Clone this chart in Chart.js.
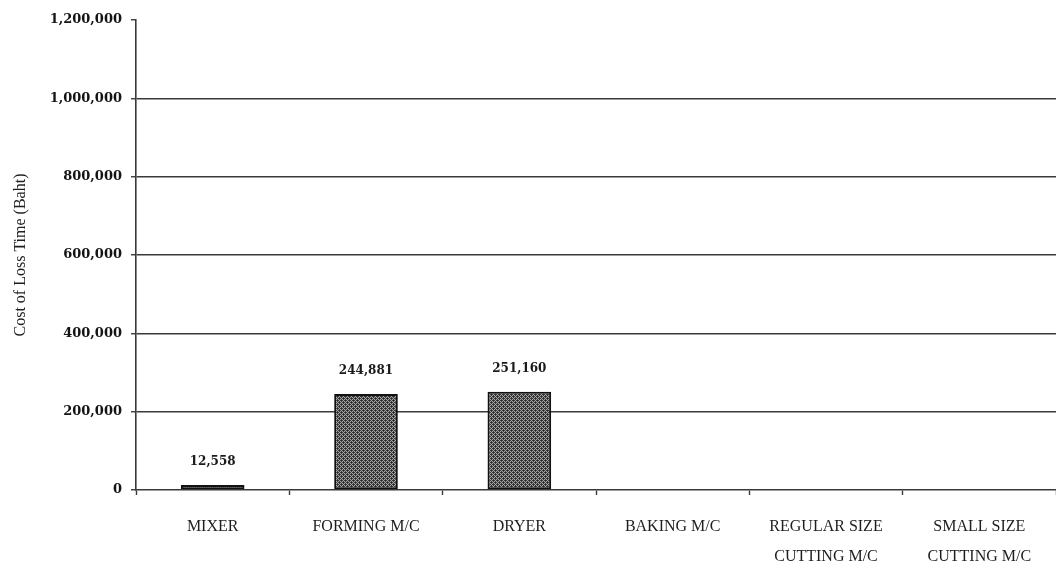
<!DOCTYPE html>
<html>
<head>
<meta charset="utf-8">
<title>Cost of Loss Time by Machine</title>
<script src="https://cdn.jsdelivr.net/npm/chart.js@4.4.1/dist/chart.umd.min.js"></script>
<style>
  html, body { margin: 0; padding: 0; background: #ffffff; }
  #wrap { width: 1056px; height: 570px; }
</style>
</head>
<body>
<div id="wrap"><canvas id="chart" width="1056" height="570"></canvas></div>
<script>
// Machine categories (multi-line labels where the axis wraps them)
const machines = [
  ['MIXER'],
  ['FORMING M/C'],
  ['DRYER'],
  ['BAKING M/C'],
  ['REGULAR SIZE', 'CUTTING M/C'],
  ['SMALL SIZE', 'CUTTING M/C']
];

// Cost of loss time per machine (Baht)
const lossCost = [12558, 244881, 251160, 0, 0, 0];

// Value axis ticks
const yTicks = [0, 200000, 400000, 600000, 800000, 1000000, 1200000];

// Stippled grey fill for the bars
function stipplePattern() {
  const c = document.createElement('canvas');
  c.width = 4; c.height = 4;
  const g = c.getContext('2d');
  g.fillStyle = '#a6a6a6';
  g.fillRect(0, 0, 4, 4);
  g.fillStyle = '#3c3c3c';
  for (let y = 0; y < 4; y++) {
    for (let x = 0; x < 4; x++) {
      if ((x + y) % 2 === 0) g.fillRect(x, y, 1, 1);
    }
  }
  g.fillStyle = '#262626';
  g.fillRect(1, 0, 1, 1);
  g.fillRect(3, 2, 1, 1);
  return g.createPattern(c, 'repeat');
}

// Value labels above non-zero bars
const valueLabels = {
  id: 'valueLabels',
  afterDatasetsDraw(chart) {
    const ctx = chart.ctx;
    const meta = chart.getDatasetMeta(0);
    const data = chart.data.datasets[0].data;
    ctx.save();
    ctx.font = 'bold 12px "DejaVu Serif", serif';
    ctx.fillStyle = '#1a1a1a';
    ctx.textAlign = 'center';
    ctx.textBaseline = 'middle';
    meta.data.forEach((bar, i) => {
      const v = data[i];
      if (v > 0) {
        ctx.fillText(v.toLocaleString('en-US'), bar.x, bar.y - 23);
      }
    });
    ctx.restore();
  }
};

const ctx = document.getElementById('chart').getContext('2d');

new Chart(ctx, {
  type: 'bar',
  data: {
    labels: machines,
    datasets: [{
      data: lossCost,
      backgroundColor: stipplePattern(),
      borderColor: '#111111',
      borderWidth: 2,
      borderSkipped: false,
      categoryPercentage: 1.0,
      barPercentage: 0.415
    }]
  },
  options: {
    responsive: false,
    animation: false,
    devicePixelRatio: 1,
    layout: { padding: { top: 20, right: 0, bottom: 0, left: 0 } },
    plugins: {
      legend: { display: false },
      tooltip: { enabled: false }
    },
    scales: {
      x: {
        offset: true,
        grid: {
          offset: true,
          drawOnChartArea: false,
          drawTicks: true,
          tickLength: 5,
          tickColor: '#3a3a3a',
          tickWidth: 1.4
        },
        border: { display: true, color: '#3a3a3a', width: 1.6 },
        ticks: {
          color: '#1e1e1e',
          padding: 17,
          maxRotation: 0,
          autoSkip: false,
          font: { family: '"Liberation Serif", "Times New Roman", serif', size: 16, lineHeight: '30px' }
        },
        afterFit(scale) { scale.height = 80; }
      },
      y: {
        min: 0,
        max: 1200000,
        afterBuildTicks(scale) {
          scale.ticks = yTicks.map(v => ({ value: v }));
        },
        grid: {
          color: (c) => (c.tick && (c.tick.value === 1200000 || c.tick.value === 0)) ? 'rgba(0,0,0,0)' : '#3a3a3a',
          lineWidth: 1.5,
          tickLength: 5,
          tickColor: '#3a3a3a',
          tickWidth: 1.4
        },
        border: { display: true, color: '#3a3a3a', width: 1.6 },
        ticks: {
          color: '#141414',
          padding: 9,
          font: { family: '"DejaVu Serif", serif', size: 13, weight: 'bold' },
          callback: (v) => Number(v).toLocaleString('en-US')
        },
        title: {
          display: true,
          text: 'Cost of Loss Time (Baht)',
          color: '#1e1e1e',
          padding: { top: 11, bottom: 0 },
          font: { family: '"Liberation Serif", "Times New Roman", serif', size: 16 }
        },
        afterFit(scale) { scale.width = 136; }
      }
    }
  },
  plugins: [valueLabels]
});
</script>
</body>
</html>
